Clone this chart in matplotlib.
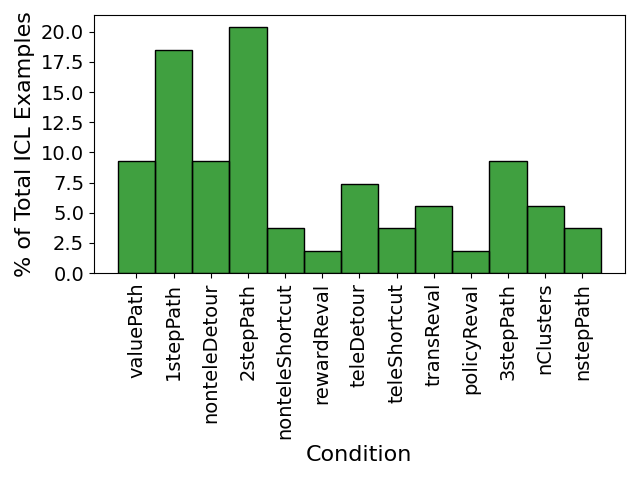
import matplotlib
matplotlib.use("Agg")
import matplotlib.pyplot as plt
import numpy as np

conditions = ["valuePath", "1stepPath", "nonteleDetour", "2stepPath", "nonteleShortcut",
              "rewardReval", "teleDetour", "teleShortcut", "transReval", "policyReval",
              "3stepPath", "nClusters", "nstepPath"]
counts = [5, 10, 5, 11, 2, 1, 4, 2, 3, 1, 5, 3, 2]
percent = [c / sum(counts) * 100 for c in counts]

fig, ax = plt.subplots(figsize=(6.4, 4.8), dpi=100)
x = np.arange(len(conditions))
ax.bar(x, percent, width=1.0, color="green", alpha=0.75, linewidth=0)
ax.bar(x, percent, width=1.0, color="none", edgecolor="black", linewidth=1)
ax.set_xticks(x)
ax.set_xticklabels(conditions, rotation=90, fontsize=14)
ax.tick_params(axis="y", labelsize=14)
ax.set_yticks(np.arange(0, 21, 2.5))
ax.margins(x=0.05)
ax.set_xlabel("Condition", fontsize=16)
ax.set_ylabel("% of Total ICL Examples", fontsize=16)
fig.tight_layout()
fig.savefig("out.png")
